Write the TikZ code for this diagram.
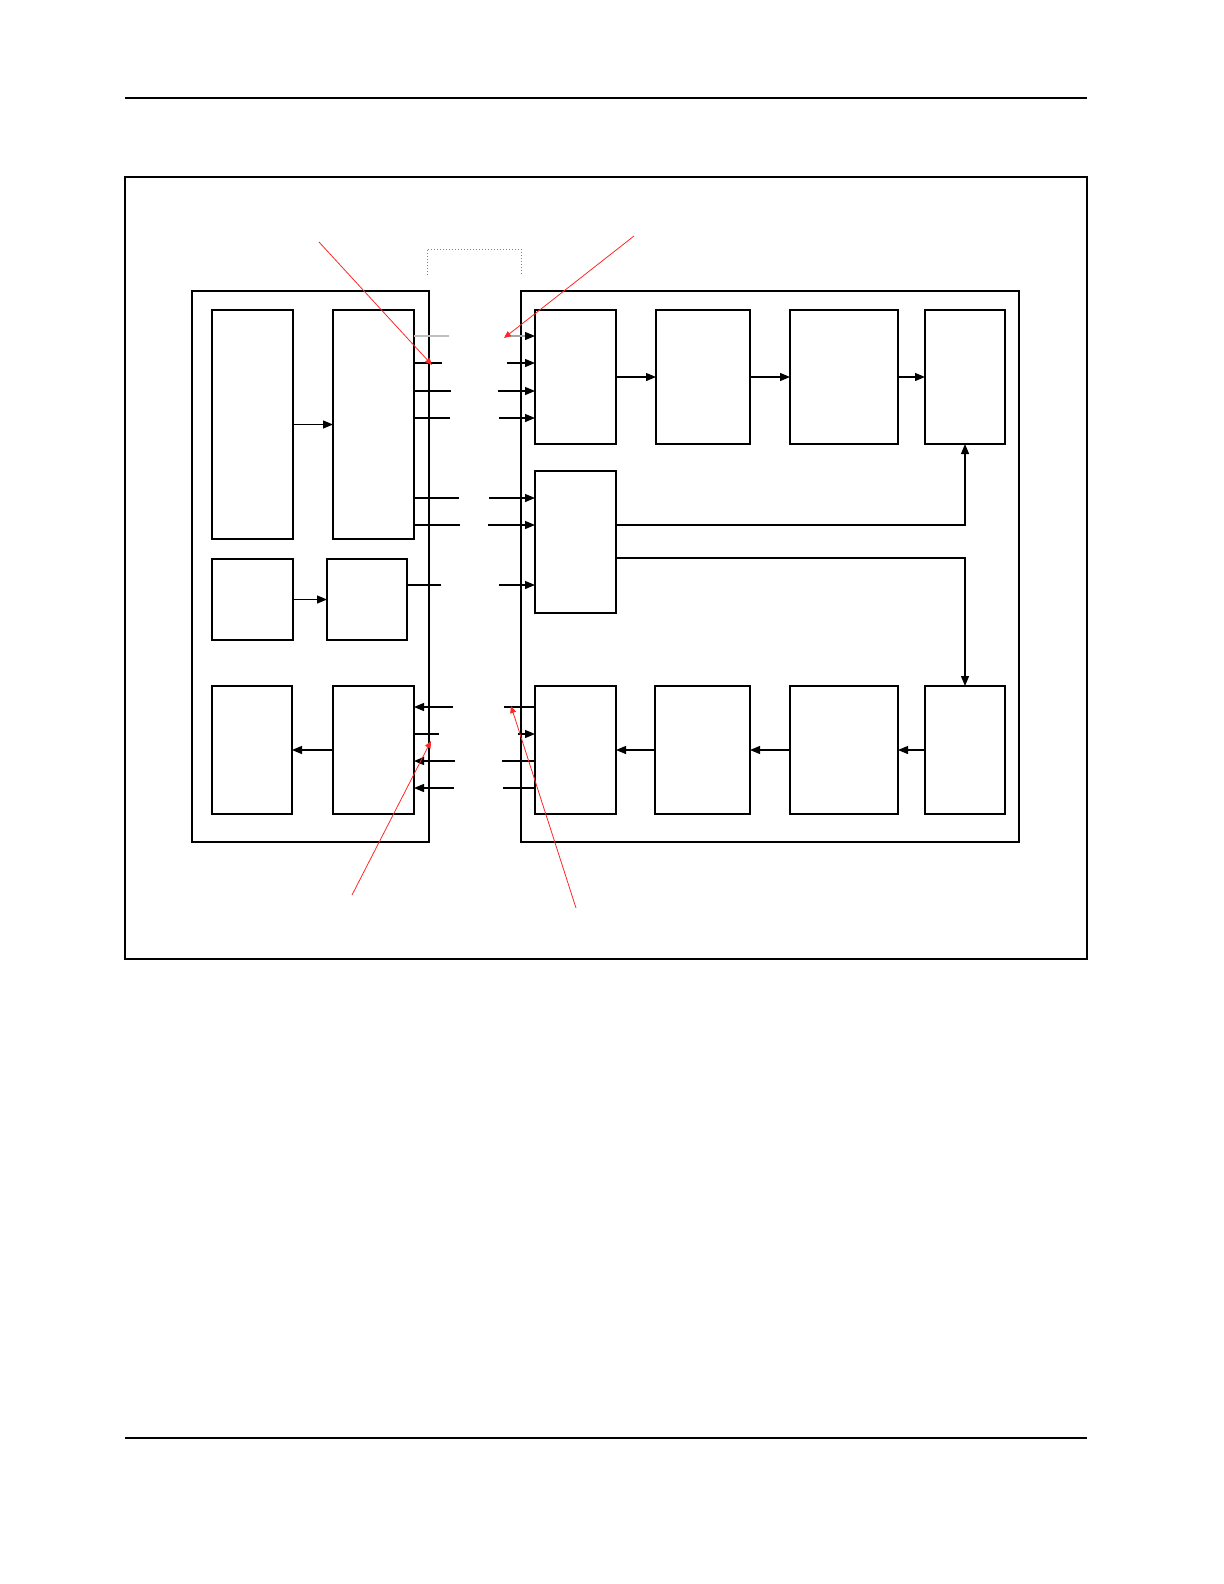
\documentclass[tikz,border=0pt]{standalone}
\usetikzlibrary{arrows.meta}
\tikzset{
  blk/.style={draw, line width=0.7pt, inner sep=0pt, outer sep=0pt},
  ln/.style={line width=0.7pt},
  arr/.style={line width=0.6pt, -{Triangle[length=5pt,width=4pt]}},
  redarr/.style={red!85, line width=0.4pt, -{Triangle[length=3.5pt,width=3pt]}},
}
\begin{document}
\begin{tikzpicture}[x=0.5pt, y=-0.5pt]
\useasboundingbox (0,0) rectangle (1224,1584);

%% 页眉页脚
\draw[line width=0.8pt] (125,98) -- (1087,98);
\draw[line width=0.6pt] (125,1438) -- (1087,1438);

%% 外框
\node[blk, minimum width=481pt, minimum height=391pt] (frame) at (606,568) {};
\node[blk, minimum width=118.5pt, minimum height=275.5pt] (lbig) at (310.5,566.5) {};
\node[blk, minimum width=249pt, minimum height=275.5pt] (rbig) at (770,566.5) {};

%% 左侧
\node[blk, minimum width=40.5pt, minimum height=114.5pt] (a) at (252.5,424.5) {};
\node[blk, minimum width=40.5pt, minimum height=114.5pt] (b) at (373.5,424.5) {};
\node[blk, minimum width=40.5pt, minimum height=40.5pt] (c) at (252.5,599.5) {};
\node[blk, minimum width=40pt, minimum height=40.5pt] (d) at (367,599.5) {};
\node[blk, minimum width=40pt, minimum height=64pt] (e) at (252,750) {};
\node[blk, minimum width=40.5pt, minimum height=64pt] (f) at (373.5,750) {};

%% 右侧
\node[blk, minimum width=40.5pt, minimum height=67pt] (r1) at (575.5,377) {};
\node[blk, minimum width=47pt, minimum height=67pt] (r2) at (703,377) {};
\node[blk, minimum width=54pt, minimum height=67pt] (r3) at (844,377) {};
\node[blk, minimum width=40pt, minimum height=67pt] (r4) at (965,377) {};
\node[blk, minimum width=40.5pt, minimum height=71pt] (m) at (575.5,542) {};
\node[blk, minimum width=40.5pt, minimum height=64pt] (s1) at (575.5,750) {};
\node[blk, minimum width=47.5pt, minimum height=64pt] (s2) at (702.5,750) {};
\node[blk, minimum width=54pt, minimum height=64pt] (s3) at (844,750) {};
\node[blk, minimum width=40pt, minimum height=64pt] (s4) at (965,750) {};

%% 内部连线
\draw[arr] (a.east) -- (b.west);
\draw[arr] (c.east) -- (d.west);
\draw[arr] (f.west) -- (e.east);
\draw[arr] (r1.east) -- (r2.west);
\draw[arr] (r2.east) -- (r3.west);
\draw[arr] (r3.east) -- (r4.west);
\draw[arr] (s4.west) -- (s3.east);
\draw[arr] (s3.west) -- (s2.east);
\draw[arr] (s2.west) -- (s1.east);
\draw[arr] ([yshift=8.5pt]m.east) -| (r4.south);
\draw[arr] ([yshift=-8pt]m.east) -| (s4.north);

%% 断开的信号线
\coordinate (l0) at (449,336);  \coordinate (k0) at (505,336);
\coordinate (l1) at (442,363);  \coordinate (k1) at (507,363);
\coordinate (l2) at (451,391);  \coordinate (k2) at (498,391);
\coordinate (l3) at (450,418);  \coordinate (k3) at (499,418);
\coordinate (l4) at (459,498);  \coordinate (k4) at (489,498);
\coordinate (l5) at (460,525);  \coordinate (k5) at (488,525);
\coordinate (l6) at (441,585);  \coordinate (k6) at (499,585);
\coordinate (l7) at (453,707);  \coordinate (k7) at (504,707);
\coordinate (l8) at (439,734);  \coordinate (k8) at (518,734);
\coordinate (l9) at (455,761);  \coordinate (k9) at (502,761);
\coordinate (l10) at (454,788); \coordinate (k10) at (503,788);

\draw[ln, gray!50] (b.east |- l0) -- (l0);
\draw[arr, gray!70, -{Triangle[length=5pt,width=4pt,color=black]}] (k0) -- (r1.west |- k0);
\draw[ln] (b.east |- l1) -- (l1);
\draw[arr] (k1) -- (r1.west |- k1);
\draw[ln] (b.east |- l2) -- (l2);
\draw[arr] (k2) -- (r1.west |- k2);
\draw[ln] (b.east |- l3) -- (l3);
\draw[arr] (k3) -- (r1.west |- k3);
\draw[ln] (b.east |- l4) -- (l4);
\draw[arr] (k4) -- (m.west |- k4);
\draw[ln] (b.east |- l5) -- (l5);
\draw[arr] (k5) -- (m.west |- k5);
\draw[ln] (d.east |- l6) -- (l6);
\draw[arr] (k6) -- (m.west |- k6);
\draw[arr] (l7) -- (f.east |- l7);
\draw[ln] (s1.west |- k7) -- (k7);
\draw[ln] (f.east |- l8) -- (l8);
\draw[arr] (k8) -- (s1.west |- k8);
\draw[arr] (l9) -- (f.east |- l9);
\draw[ln] (s1.west |- k9) -- (k9);
\draw[arr] (l10) -- (f.east |- l10);
\draw[ln] (s1.west |- k10) -- (k10);

%% 红色标注
\draw[red!70, line width=0.5pt, densely dotted] (427,275) -- (427,249) -- (521,249) -- (521,275);
\coordinate (p1) at (319,242); \coordinate (t1) at (432,365);
\coordinate (p2) at (634,236); \coordinate (t2) at (504,338);
\coordinate (p3) at (352,895); \coordinate (t3) at (431,741);
\coordinate (p4) at (576,908); \coordinate (t4) at (511,706);
\draw[redarr] (p1) -- (t1);
\draw[redarr] (p2) -- (t2);
\draw[redarr] (p3) -- (t3);
\draw[redarr] (p4) -- (t4);
\end{tikzpicture}
\end{document}
